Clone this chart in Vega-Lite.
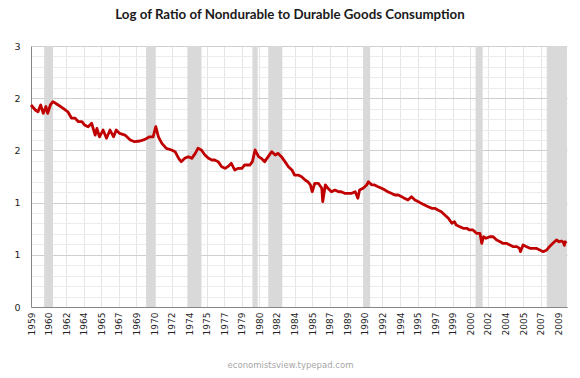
{
  "$schema": "https://vega.github.io/schema/vega-lite/v6.json",
  "width": 536,
  "height": 261,
  "autosize": "none",
  "padding": {"left": 31, "top": 46, "right": 13, "bottom": 71},
  "background": "white",
  "title": {
    "text": "Log of Ratio of Nondurable to Durable Goods Consumption",
    "font": "Lato",
    "fontSize": 13.3,
    "fontWeight": "bold",
    "color": "#1a1a1a",
    "anchor": "middle",
    "dx": -9,
    "offset": 20
  },
  "config": {
    "view": {"stroke": null},
    "axis": {
      "labelFont": "DejaVu Sans",
      "labelColor": "#222222",
      "ticks": false,
      "domainColor": "#868686"
    },
    "axisX": {"labelOverlap": false, "labelFlush": false, "tickCount": 200}
  },
  "datasets": {
    "recessions": [
      {"start": "1960-04-01", "end": "1961-02-01"},
      {"start": "1969-12-01", "end": "1970-11-01"},
      {"start": "1973-11-01", "end": "1975-03-01"},
      {"start": "1980-01-01", "end": "1980-07-01"},
      {"start": "1981-07-01", "end": "1982-11-01"},
      {"start": "1990-07-01", "end": "1991-03-01"},
      {"start": "2001-03-01", "end": "2001-11-01"},
      {"start": "2007-12-01", "end": "2009-11-01"}
    ],
    "ratio": [
      {"date": "1959-01-01", "value": 1.935},
      {"date": "1959-06-01", "value": 1.887},
      {"date": "1959-09-01", "value": 1.87},
      {"date": "1959-12-01", "value": 1.935},
      {"date": "1960-03-01", "value": 1.855},
      {"date": "1960-06-01", "value": 1.92},
      {"date": "1960-08-01", "value": 1.855},
      {"date": "1960-11-01", "value": 1.935},
      {"date": "1961-02-01", "value": 1.967},
      {"date": "1961-08-01", "value": 1.935},
      {"date": "1962-02-01", "value": 1.9},
      {"date": "1962-07-01", "value": 1.87},
      {"date": "1962-11-01", "value": 1.81},
      {"date": "1963-03-01", "value": 1.81},
      {"date": "1963-07-01", "value": 1.775},
      {"date": "1963-11-01", "value": 1.775},
      {"date": "1964-02-01", "value": 1.743},
      {"date": "1964-06-01", "value": 1.727},
      {"date": "1964-10-01", "value": 1.76},
      {"date": "1965-02-01", "value": 1.647},
      {"date": "1965-04-01", "value": 1.71},
      {"date": "1965-07-01", "value": 1.63},
      {"date": "1965-11-01", "value": 1.695},
      {"date": "1966-03-01", "value": 1.616},
      {"date": "1966-07-01", "value": 1.695},
      {"date": "1966-11-01", "value": 1.63},
      {"date": "1967-02-01", "value": 1.695},
      {"date": "1967-06-01", "value": 1.663},
      {"date": "1967-12-01", "value": 1.647},
      {"date": "1968-06-01", "value": 1.6},
      {"date": "1968-11-01", "value": 1.583},
      {"date": "1969-05-01", "value": 1.59},
      {"date": "1969-09-01", "value": 1.6},
      {"date": "1970-01-01", "value": 1.616},
      {"date": "1970-04-01", "value": 1.63},
      {"date": "1970-08-01", "value": 1.63},
      {"date": "1970-11-01", "value": 1.727},
      {"date": "1971-02-01", "value": 1.63},
      {"date": "1971-06-01", "value": 1.568},
      {"date": "1971-11-01", "value": 1.52},
      {"date": "1972-05-01", "value": 1.504},
      {"date": "1972-09-01", "value": 1.488},
      {"date": "1973-01-01", "value": 1.424},
      {"date": "1973-04-01", "value": 1.392},
      {"date": "1973-08-01", "value": 1.424},
      {"date": "1973-12-01", "value": 1.44},
      {"date": "1974-04-01", "value": 1.424},
      {"date": "1974-08-01", "value": 1.472},
      {"date": "1974-11-01", "value": 1.52},
      {"date": "1975-03-01", "value": 1.504},
      {"date": "1975-07-01", "value": 1.456},
      {"date": "1975-11-01", "value": 1.424},
      {"date": "1976-03-01", "value": 1.408},
      {"date": "1976-06-01", "value": 1.408},
      {"date": "1976-10-01", "value": 1.392},
      {"date": "1977-02-01", "value": 1.344},
      {"date": "1977-06-01", "value": 1.328},
      {"date": "1977-09-01", "value": 1.344},
      {"date": "1978-01-01", "value": 1.376},
      {"date": "1978-05-01", "value": 1.312},
      {"date": "1978-09-01", "value": 1.328},
      {"date": "1979-01-01", "value": 1.328},
      {"date": "1979-04-01", "value": 1.36},
      {"date": "1979-10-01", "value": 1.36},
      {"date": "1980-01-01", "value": 1.392},
      {"date": "1980-04-01", "value": 1.504},
      {"date": "1980-08-01", "value": 1.44},
      {"date": "1980-11-01", "value": 1.424},
      {"date": "1981-03-01", "value": 1.392},
      {"date": "1981-07-01", "value": 1.44},
      {"date": "1981-11-01", "value": 1.488},
      {"date": "1982-03-01", "value": 1.456},
      {"date": "1982-06-01", "value": 1.472},
      {"date": "1982-10-01", "value": 1.44},
      {"date": "1983-02-01", "value": 1.392},
      {"date": "1983-06-01", "value": 1.344},
      {"date": "1983-10-01", "value": 1.312},
      {"date": "1984-01-01", "value": 1.264},
      {"date": "1984-05-01", "value": 1.264},
      {"date": "1984-09-01", "value": 1.248},
      {"date": "1985-01-01", "value": 1.216},
      {"date": "1985-04-01", "value": 1.2},
      {"date": "1985-07-01", "value": 1.169},
      {"date": "1985-09-01", "value": 1.104},
      {"date": "1985-12-01", "value": 1.185},
      {"date": "1986-04-01", "value": 1.185},
      {"date": "1986-08-01", "value": 1.137},
      {"date": "1986-09-01", "value": 1.009},
      {"date": "1986-12-01", "value": 1.169},
      {"date": "1987-03-01", "value": 1.137},
      {"date": "1987-07-01", "value": 1.104},
      {"date": "1987-11-01", "value": 1.12},
      {"date": "1988-03-01", "value": 1.104},
      {"date": "1988-06-01", "value": 1.104},
      {"date": "1988-10-01", "value": 1.089},
      {"date": "1989-02-01", "value": 1.089},
      {"date": "1989-06-01", "value": 1.089},
      {"date": "1989-10-01", "value": 1.104},
      {"date": "1990-01-01", "value": 1.041},
      {"date": "1990-03-01", "value": 1.12},
      {"date": "1990-07-01", "value": 1.137},
      {"date": "1990-11-01", "value": 1.169},
      {"date": "1991-01-01", "value": 1.2},
      {"date": "1991-05-01", "value": 1.169},
      {"date": "1991-08-01", "value": 1.169},
      {"date": "1991-12-01", "value": 1.152},
      {"date": "1992-04-01", "value": 1.137},
      {"date": "1992-08-01", "value": 1.12},
      {"date": "1992-11-01", "value": 1.104},
      {"date": "1993-03-01", "value": 1.089},
      {"date": "1993-07-01", "value": 1.073},
      {"date": "1993-11-01", "value": 1.073},
      {"date": "1994-03-01", "value": 1.057},
      {"date": "1994-06-01", "value": 1.041},
      {"date": "1994-10-01", "value": 1.025},
      {"date": "1995-02-01", "value": 1.057},
      {"date": "1995-06-01", "value": 1.025},
      {"date": "1995-10-01", "value": 1.009},
      {"date": "1996-01-01", "value": 0.993},
      {"date": "1996-05-01", "value": 0.977},
      {"date": "1996-09-01", "value": 0.961},
      {"date": "1997-01-01", "value": 0.945},
      {"date": "1997-05-01", "value": 0.945},
      {"date": "1997-08-01", "value": 0.929},
      {"date": "1997-12-01", "value": 0.913},
      {"date": "1998-04-01", "value": 0.881},
      {"date": "1998-08-01", "value": 0.85},
      {"date": "1998-12-01", "value": 0.802},
      {"date": "1999-03-01", "value": 0.817},
      {"date": "1999-05-01", "value": 0.785},
      {"date": "1999-09-01", "value": 0.769},
      {"date": "2000-01-01", "value": 0.754},
      {"date": "2000-05-01", "value": 0.754},
      {"date": "2000-08-01", "value": 0.738},
      {"date": "2000-12-01", "value": 0.738},
      {"date": "2001-04-01", "value": 0.706},
      {"date": "2001-08-01", "value": 0.706},
      {"date": "2001-10-01", "value": 0.61},
      {"date": "2001-12-01", "value": 0.673},
      {"date": "2002-03-01", "value": 0.658},
      {"date": "2002-07-01", "value": 0.673},
      {"date": "2002-11-01", "value": 0.673},
      {"date": "2003-03-01", "value": 0.642},
      {"date": "2003-07-01", "value": 0.625},
      {"date": "2003-10-01", "value": 0.61},
      {"date": "2004-02-01", "value": 0.61},
      {"date": "2004-06-01", "value": 0.594},
      {"date": "2004-10-01", "value": 0.578},
      {"date": "2005-02-01", "value": 0.578},
      {"date": "2005-05-01", "value": 0.562},
      {"date": "2005-06-01", "value": 0.53},
      {"date": "2005-09-01", "value": 0.594},
      {"date": "2006-01-01", "value": 0.578},
      {"date": "2006-05-01", "value": 0.562},
      {"date": "2006-08-01", "value": 0.562},
      {"date": "2006-12-01", "value": 0.562},
      {"date": "2007-04-01", "value": 0.546},
      {"date": "2007-08-01", "value": 0.53},
      {"date": "2007-12-01", "value": 0.546},
      {"date": "2008-03-01", "value": 0.578},
      {"date": "2008-07-01", "value": 0.61},
      {"date": "2008-11-01", "value": 0.642},
      {"date": "2009-02-01", "value": 0.625},
      {"date": "2009-05-01", "value": 0.632},
      {"date": "2009-07-01", "value": 0.62},
      {"date": "2009-08-01", "value": 0.59},
      {"date": "2009-09-01", "value": 0.625},
      {"date": "2009-10-01", "value": 0.61}
    ]
  },
  "layer": [
    {
      "data": {"name": "recessions"},
      "mark": {"type": "rect", "color": "#d9d9d9"},
      "encoding": {
        "x": {
          "field": "start",
          "type": "temporal",
          "scale": {"domain": [{"year": 1959, "month": 1, "date": 1}, {"year": 2009, "month": 11, "date": 1}]},
          "axis": {
            "values": [
              {"year": 1959, "month": 1, "date": 1}, {"year": 1960, "month": 9, "date": 1}, {"year": 1962, "month": 5, "date": 1},
              {"year": 1964, "month": 1, "date": 1}, {"year": 1965, "month": 9, "date": 1}, {"year": 1967, "month": 5, "date": 1},
              {"year": 1969, "month": 1, "date": 1}, {"year": 1970, "month": 9, "date": 1}, {"year": 1972, "month": 5, "date": 1},
              {"year": 1974, "month": 1, "date": 1}, {"year": 1975, "month": 9, "date": 1}, {"year": 1977, "month": 5, "date": 1},
              {"year": 1979, "month": 1, "date": 1}, {"year": 1980, "month": 9, "date": 1}, {"year": 1982, "month": 5, "date": 1},
              {"year": 1984, "month": 1, "date": 1}, {"year": 1985, "month": 9, "date": 1}, {"year": 1987, "month": 5, "date": 1},
              {"year": 1989, "month": 1, "date": 1}, {"year": 1990, "month": 9, "date": 1}, {"year": 1992, "month": 5, "date": 1},
              {"year": 1994, "month": 1, "date": 1}, {"year": 1995, "month": 9, "date": 1}, {"year": 1997, "month": 5, "date": 1},
              {"year": 1999, "month": 1, "date": 1}, {"year": 2000, "month": 9, "date": 1}, {"year": 2002, "month": 5, "date": 1},
              {"year": 2004, "month": 1, "date": 1}, {"year": 2005, "month": 9, "date": 1}, {"year": 2007, "month": 5, "date": 1},
              {"year": 2009, "month": 1, "date": 1}
            ],
            "tickCount": 200,
            "format": "%Y",
            "labelAngle": -90,
            "labelFontSize": 9,
            "labelPadding": 5,
            "labelOverlap": false,
            "grid": true,
            "gridColor": "#e4e4e4",
            "title": "economistsview.typepad.com",
            "titleFont": "DejaVu Sans",
            "titleFontSize": 8.5,
            "titleFontWeight": "normal",
            "titleColor": "#a6a6a6",
            "titleX": 259,
            "titlePadding": 26
          }
        },
        "x2": {"field": "end"}
      }
    },
    {
      "data": {"name": "ratio"},
      "mark": {"type": "line", "color": "#c00000", "strokeWidth": 2.8, "strokeJoin": "round"},
      "encoding": {
        "x": {
          "field": "date",
          "type": "temporal",
          "axis": {
            "values": [
              {"year": 1959, "month": 1, "date": 1}, {"year": 1960, "month": 9, "date": 1}, {"year": 1962, "month": 5, "date": 1},
              {"year": 1964, "month": 1, "date": 1}, {"year": 1965, "month": 9, "date": 1}, {"year": 1967, "month": 5, "date": 1},
              {"year": 1969, "month": 1, "date": 1}, {"year": 1970, "month": 9, "date": 1}, {"year": 1972, "month": 5, "date": 1},
              {"year": 1974, "month": 1, "date": 1}, {"year": 1975, "month": 9, "date": 1}, {"year": 1977, "month": 5, "date": 1},
              {"year": 1979, "month": 1, "date": 1}, {"year": 1980, "month": 9, "date": 1}, {"year": 1982, "month": 5, "date": 1},
              {"year": 1984, "month": 1, "date": 1}, {"year": 1985, "month": 9, "date": 1}, {"year": 1987, "month": 5, "date": 1},
              {"year": 1989, "month": 1, "date": 1}, {"year": 1990, "month": 9, "date": 1}, {"year": 1992, "month": 5, "date": 1},
              {"year": 1994, "month": 1, "date": 1}, {"year": 1995, "month": 9, "date": 1}, {"year": 1997, "month": 5, "date": 1},
              {"year": 1999, "month": 1, "date": 1}, {"year": 2000, "month": 9, "date": 1}, {"year": 2002, "month": 5, "date": 1},
              {"year": 2004, "month": 1, "date": 1}, {"year": 2005, "month": 9, "date": 1}, {"year": 2007, "month": 5, "date": 1},
              {"year": 2009, "month": 1, "date": 1}
            ],
            "tickCount": 200,
            "format": "%Y",
            "labelAngle": -90,
            "labelFontSize": 9,
            "labelPadding": 5,
            "labelOverlap": false,
            "grid": true,
            "gridColor": "#e4e4e4",
            "title": "economistsview.typepad.com",
            "titleFont": "DejaVu Sans",
            "titleFontSize": 8.5,
            "titleFontWeight": "normal",
            "titleColor": "#a6a6a6",
            "titleX": 259,
            "titlePadding": 26
          }
        },
        "y": {
          "field": "value",
          "type": "quantitative",
          "scale": {"domain": [0, 2.5], "nice": false, "zero": true},
          "axis": {
            "values": [0, 0.5, 1, 1.5, 2, 2.5],
            "labelExpr": "'' + round(datum.value)",
            "labelFontSize": 9.5,
            "labelPadding": 11,
            "grid": true,
            "gridColor": "#cfcfcf",
            "title": null
          }
        }
      }
    },
    {
      "data": {"name": "ratio"},
      "mark": {"type": "line", "opacity": 0},
      "encoding": {
        "x": {"field": "date", "type": "temporal"},
        "y": {
          "field": "value",
          "type": "quantitative",
          "axis": {
            "orient": "right",
            "values": [0.1, 0.2, 0.3, 0.4, 0.6, 0.7, 0.8, 0.9, 1.1, 1.2, 1.3, 1.4, 1.6, 1.7, 1.8, 1.9, 2.1, 2.2, 2.3, 2.4],
            "tickCount": 100,
            "labels": false,
            "domain": false,
            "grid": true,
            "gridColor": "#ececec",
            "title": null
          }
        }
      }
    }
  ],
  "resolve": {"axis": {"y": "independent"}}
}
